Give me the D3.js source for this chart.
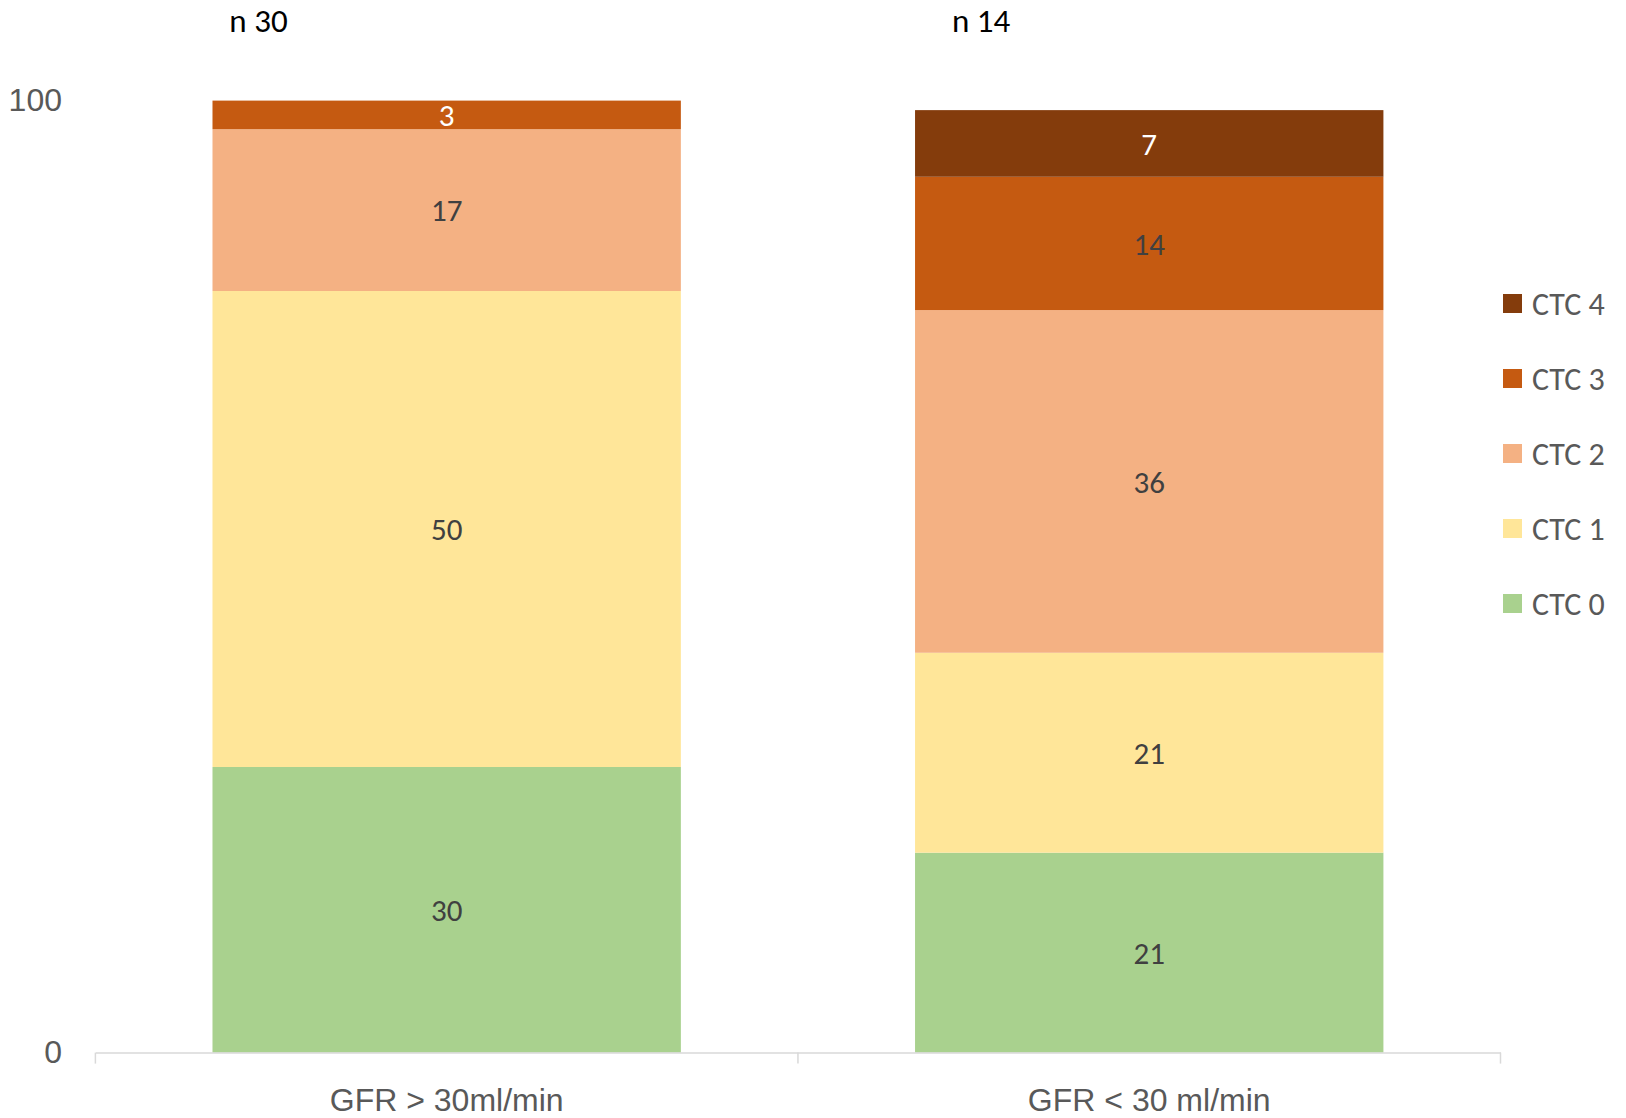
<!DOCTYPE html>
<html>
<head>
<meta charset="utf-8">
<script src="https://cdn.jsdelivr.net/npm/d3@7"></script>
<style>
  html, body { margin: 0; padding: 0; background: #ffffff; }
  svg { display: block; font-family: Carlito, Calibri, Lato, "Open Sans", sans-serif; }
</style>
</head>
<body>
<svg id="chart" width="1626" height="1118"></svg>
<script>
// Share of patients per CTC grade, by renal function group (%)
const categories = ["GFR > 30ml/min", "GFR < 30 ml/min"];
const sampleSizes = [30, 14];
const seriesNames = ["CTC 0", "CTC 1", "CTC 2", "CTC 3", "CTC 4"];
const ctc0 = [30, 21];
const ctc1 = [50, 21];
const ctc2 = [17, 36];
const ctc3 = [3, 14];
const ctc4 = [0, 7];
const yTicks = [0, 100];

const seriesColors = ["#A9D18E", "#FFE699", "#F4B183", "#C55A11", "#843C0C"];
// label colour per series, per category
const labelColors = [
  ["#404040", "#404040"],
  ["#404040", "#404040"],
  ["#404040", "#404040"],
  ["#ffffff", "#404040"],
  ["#ffffff", "#ffffff"]
];

const seriesValues = [ctc0, ctc1, ctc2, ctc3, ctc4];
const rows = categories.map((c, i) => {
  const r = { category: c };
  seriesNames.forEach((s, k) => { r[s] = seriesValues[k][i]; });
  return r;
});
const stacked = d3.stack().keys(seriesNames)(rows);

const svg = d3.select("#chart");
const plotLeft = 95.4, plotRight = 1500.5, plotTop = 100.6, plotBottom = 1052.6;

const x = d3.scaleBand()
  .domain(categories)
  .range([plotLeft, plotRight])
  .paddingInner(1 / 3)
  .paddingOuter(1 / 6);

const y = d3.scaleLinear().domain([0, 100]).range([plotBottom, plotTop]);
const color = d3.scaleOrdinal().domain(seriesNames).range(seriesColors);

// stacked bars
const layers = svg.append("g").selectAll("g")
  .data(stacked)
  .join("g")
  .attr("fill", d => color(d.key));

layers.selectAll("rect")
  .data(d => d.filter(p => p[1] - p[0] > 0))
  .join("rect")
  .attr("x", d => x(d.data.category))
  .attr("y", d => y(d[1]))
  .attr("width", x.bandwidth())
  .attr("height", d => y(d[0]) - y(d[1]));

// value labels centred in each segment
stacked.forEach((layer, k) => {
  svg.append("g").selectAll("text")
    .data(layer.filter(p => p[1] - p[0] > 0))
    .join("text")
    .attr("x", d => x(d.data.category) + x.bandwidth() / 2)
    .attr("y", d => y((d[0] + d[1]) / 2))
    .attr("dy", "0.36em")
    .attr("text-anchor", "middle")
    .attr("font-size", 31)
    .attr("fill", d => labelColors[k][categories.indexOf(d.data.category)])
    .text(d => d[1] - d[0]);
});

// x axis: baseline, category boundary ticks, category names
const xAxis = svg.append("g")
  .attr("transform", `translate(0,${plotBottom})`)
  .call(d3.axisBottom(x).tickSize(0).tickPadding(36));
xAxis.select(".domain").attr("stroke", "#d9d9d9").attr("stroke-width", 1.5);
xAxis.selectAll(".tick text")
  .attr("font-size", 32)
  .attr("font-family", null)
  .attr("fill", "#595959");

const boundaries = d3.range(categories.length + 1).map(i => plotLeft + i * x.step());
xAxis.selectAll("line.boundary")
  .data(boundaries)
  .join("line")
  .attr("class", "boundary")
  .attr("x1", d => d).attr("x2", d => d)
  .attr("y1", 0).attr("y2", 11)
  .attr("stroke", "#d9d9d9")
  .attr("stroke-width", 1.5);

// y axis labels only
const yAxis = svg.append("g")
  .attr("transform", "translate(70,0)")
  .call(d3.axisLeft(y).tickValues(yTicks).tickSize(0).tickPadding(8));
yAxis.select(".domain").remove();
yAxis.selectAll(".tick text")
  .attr("font-size", 32)
  .attr("font-family", null)
  .attr("fill", "#595959");

// group sizes above the bars
const nLabelDx = [46, 66];
svg.append("g").selectAll("text")
  .data(categories)
  .join("text")
  .attr("x", (c, i) => x(c) + nLabelDx[i])
  .attr("y", 32)
  .attr("text-anchor", "middle")
  .attr("font-size", 33)
  .attr("fill", "#000000")
  .text((c, i) => "n " + sampleSizes[i]);

// legend, highest grade on top
const legendItems = seriesNames.slice().reverse();
const legend = svg.append("g").attr("transform", "translate(1503,303.5)");
const item = legend.selectAll("g")
  .data(legendItems)
  .join("g")
  .attr("transform", (d, i) => `translate(0,${i * 75})`);
item.append("rect")
  .attr("x", 0).attr("y", -9.5)
  .attr("width", 19).attr("height", 19)
  .attr("fill", d => color(d));
item.append("text")
  .attr("x", 29)
  .attr("y", 0)
  .attr("dy", "0.36em")
  .attr("font-size", 32)
  .attr("fill", "#595959")
  .text(d => d);
</script>
</body>
</html>
